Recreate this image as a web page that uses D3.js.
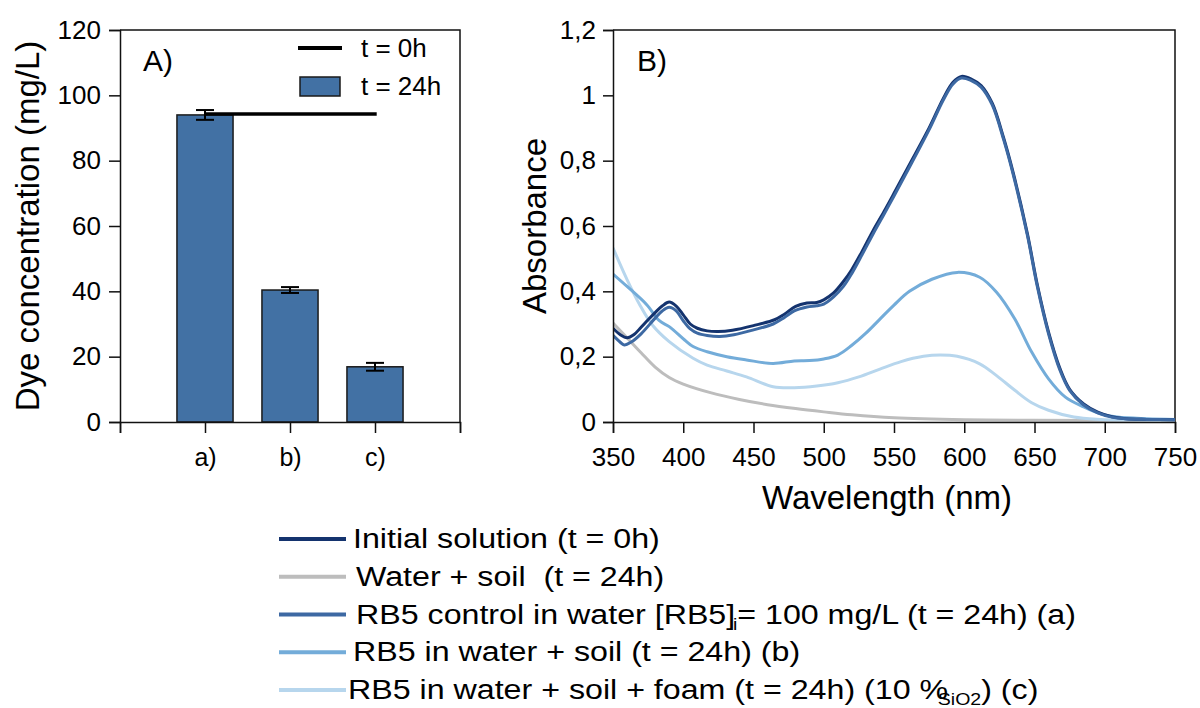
<!DOCTYPE html>
<html>
<head>
<meta charset="utf-8">
<script src="https://d3js.org/d3.v7.min.js"></script>
<style>
  body { margin: 0; background: #fff; }
  svg { font-family: 'Liberation Sans', Arial, sans-serif; }
  .lg { white-space: pre; }
</style>
</head>
<body>
<svg width="1200" height="708"></svg>
<script>
// ---- panel A data ----
const cats = ["a)", "b)", "c)"];
const conc = [94.0, 40.4, 16.9];
const concErr = [1.5, 0.9, 1.2];
const t0Value = 94.3;
const yTicksA = [0, 20, 40, 60, 80, 100, 120];

// ---- panel B data (wavelength nm, absorbance) ----
const wlInit = [350,355,360,365,370,375,380,385,390,395,400,405,410,417,425,435,450,465,472,480,488,495,500,507,514,520,527,535,543,550,560,575,585,592,598,605,612,620,628,635,645,652,660,668,675,685,695,705,715,730,750];
const absInit = [.287,.268,.258,.268,.29,.313,.335,.355,.367,.355,.328,.300,.287,.279,.277,.281,.295,.313,.33,.354,.364,.366,.374,.395,.43,.467,.52,.585,.645,.70,.78,.90,.99,1.04,1.058,1.05,1.03,.975,.87,.76,.575,.42,.275,.165,.10,.055,.03,.016,.01,.008,.007];

const wlCtrl = [350,355,358,363,370,380,385,390,395,400,405,410,417,426,436,450,464,472,479,488,495,500,507,514,520,527,535,543,550,560,575,585,592,598,605,612,620,628,635,645,652,660,668,675,685,695,705,715,730,750];
const absCtrl = [.265,.245,.236,.245,.27,.318,.34,.351,.34,.31,.285,.272,.265,.262,.267,.282,.30,.32,.34,.352,.356,.361,.383,.415,.455,.51,.575,.637,.692,.772,.895,.985,1.035,1.053,1.045,1.025,.97,.865,.755,.57,.415,.27,.16,.097,.052,.028,.015,.01,.008,.007];

const wlSoil = [350,360,374,383,390,401,407,417,431,445,464,479,490,500,510,520,530,540,550,561,577,595,611,623,636,648,660,672,685,697,709,730,750];
const absSoil = [.453,.415,.359,.31,.292,.251,.231,.215,.20,.19,.179,.187,.188,.193,.205,.235,.272,.315,.358,.40,.437,.458,.443,.397,.315,.214,.132,.076,.046,.025,.015,.01,.008];

const wlFoam = [350,360,369,378,390,407,417,431,445,464,479,495,510,525,540,555,571,583,595,611,623,636,648,660,678,697,720,750];
const absFoam = [.533,.436,.359,.297,.246,.195,.174,.156,.138,.108,.105,.11,.12,.138,.162,.185,.201,.205,.201,.178,.142,.097,.059,.036,.015,.008,.006,.005];

const wlWater = [350,360,370,380,390,400,420,440,460,480,500,520,550,600,650,750];
const absWater = [.303,.258,.212,.168,.136,.116,.089,.069,.053,.041,.031,.022,.013,.007,.005,.005];

const yTicksB = [0, 0.2, 0.4, 0.6, 0.8, 1.0, 1.2];
const xTicksB = [350, 400, 450, 500, 550, 600, 650, 700, 750];

const seriesNames = ["Initial", "Water", "Control", "Soil", "Foam"];
const seriesColors = ["#14336e", "#bdbdbd", "#3d69a3", "#73acd9", "#b7d6ed"];

const svg = d3.select("svg");
const ink = "#111";

// ================= Panel A =================
const xA = d3.scaleLinear().domain([0, 4]).range([120, 460]);
const yA = d3.scaleLinear().domain([0, 120]).range([422, 30]);
const gA = svg.append("g");

// frame top/right
gA.append("path").attr("d", `M${xA(0)},${yA(120)}H${xA(4)}V${yA(0)}`)
  .attr("fill", "none").attr("stroke", ink).attr("stroke-width", 1.5);

// bars
const barW = xA(0.66) - xA(0);
gA.selectAll("rect.bar").data(conc).join("rect")
  .attr("x", (d, i) => xA(i + 1) - barW / 2)
  .attr("y", d => yA(d))
  .attr("width", barW)
  .attr("height", d => yA(0) - yA(d))
  .attr("fill", "#4271a4").attr("stroke", "#1a1a1a").attr("stroke-width", 1.5);

// t = 0h line
gA.append("line")
  .attr("x1", xA(1)).attr("x2", xA(3.02))
  .attr("y1", yA(t0Value)).attr("y2", yA(t0Value))
  .attr("stroke", "#000").attr("stroke-width", 3.5);

// error bars
const capW = 9;
conc.forEach((d, i) => {
  const cx = xA(i + 1);
  const e = gA.append("g").attr("stroke", "#000").attr("stroke-width", 2);
  e.append("line").attr("x1", cx).attr("x2", cx).attr("y1", yA(d - concErr[i])).attr("y2", yA(d + concErr[i]));
  [d - concErr[i], d + concErr[i]].forEach(v =>
    e.append("line").attr("x1", cx - capW).attr("x2", cx + capW).attr("y1", yA(v)).attr("y2", yA(v)));
});

// y axis A
const axA = gA.append("g").attr("transform", `translate(${xA(0)},0)`)
  .call(d3.axisLeft(yA).tickValues(yTicksA).tickSize(11).tickPadding(8));
// x axis A
const axXA = gA.append("g").attr("transform", `translate(0,${yA(0)})`)
  .call(d3.axisBottom(xA).tickValues([0, 1, 2, 3, 4]).tickSize(11).tickPadding(10)
    .tickFormat(d => (d >= 1 && d <= 3) ? cats[d - 1] : ""));
[axA, axXA].forEach(a => {
  a.select(".domain").attr("stroke", ink).attr("stroke-width", 1.5);
  a.selectAll(".tick line").attr("stroke", ink).attr("stroke-width", 1.5);
  a.selectAll("text").attr("fill", "#000").style("font-family", "'Liberation Sans', Arial, sans-serif");
});
axA.selectAll("text").style("font-size", "26px");
axXA.selectAll("text").style("font-size", "25px").attr("dy", "0.9em");

gA.append("text").attr("x", 143).attr("y", 71).style("font-size", "30px").text("A)");
gA.append("text").attr("transform", `translate(39,${(yA(0) + yA(120)) / 2}) rotate(-90)`)
  .attr("text-anchor", "middle").style("font-size", "33px").text("Dye concentration (mg/L)");

// legend A
gA.append("line").attr("x1", 298).attr("x2", 342).attr("y1", 48).attr("y2", 48)
  .attr("stroke", "#000").attr("stroke-width", 4);
gA.append("text").attr("x", 361).attr("y", 57).style("font-size", "26px").text("t = 0h");
gA.append("rect").attr("x", 300).attr("y", 77).attr("width", 40).attr("height", 19)
  .attr("fill", "#4271a4").attr("stroke", "#1a1a1a").attr("stroke-width", 1.5);
gA.append("text").attr("x", 361).attr("y", 95).style("font-size", "26px").text("t = 24h");

// ================= Panel B =================
const xB = d3.scaleLinear().domain([350, 750]).range([613, 1175]);
const yB = d3.scaleLinear().domain([0, 1.2]).range([422, 30]);
const gB = svg.append("g");

svg.append("defs").append("clipPath").attr("id", "clipB")
  .append("rect").attr("x", xB(350)).attr("y", yB(1.2)).attr("width", xB(750) - xB(350)).attr("height", yB(0) - yB(1.2));

gB.append("path").attr("d", `M${xB(350)},${yB(1.2)}H${xB(750)}V${yB(0)}`)
  .attr("fill", "none").attr("stroke", ink).attr("stroke-width", 1.5);

const line = d3.line().x(d => xB(d[0])).y(d => yB(d[1])).curve(d3.curveCatmullRom.alpha(0.5));
const curves = [
  { wl: wlWater, ab: absWater, c: seriesColors[1] },
  { wl: wlFoam, ab: absFoam, c: seriesColors[4] },
  { wl: wlSoil, ab: absSoil, c: seriesColors[3] },
  { wl: wlInit, ab: absInit, c: seriesColors[0] },
  { wl: wlCtrl, ab: absCtrl, c: seriesColors[2] }
];
gB.append("g").attr("clip-path", "url(#clipB)")
  .selectAll("path").data(curves).join("path")
  .attr("d", s => line(s.wl.map((w, i) => [w, s.ab[i]])))
  .attr("fill", "none").attr("stroke", s => s.c).attr("stroke-width", 3);

const fmtB = d => d === 0 ? "0" : d === 1 ? "1" : d3.format(".1f")(d).replace(".", ",");
const axYB = gB.append("g").attr("transform", `translate(${xB(350)},0)`)
  .call(d3.axisLeft(yB).tickValues(yTicksB).tickSize(10).tickPadding(7).tickFormat(fmtB));
const axXB = gB.append("g").attr("transform", `translate(0,${yB(0)})`)
  .call(d3.axisBottom(xB).tickValues(xTicksB).tickSize(11).tickPadding(10));
[axYB, axXB].forEach(a => {
  a.select(".domain").attr("stroke", ink).attr("stroke-width", 1.5);
  a.selectAll(".tick line").attr("stroke", ink).attr("stroke-width", 1.5);
  a.selectAll("text").attr("fill", "#000").style("font-size", "26px")
    .style("font-family", "'Liberation Sans', Arial, sans-serif");
});
axXB.selectAll("text").attr("dy", "0.9em");

gB.append("text").attr("x", 637).attr("y", 71).style("font-size", "30px").text("B)");
gB.append("text").attr("transform", `translate(546,${(yB(0) + yB(1.2)) / 2}) rotate(-90)`)
  .attr("text-anchor", "middle").style("font-size", "33px").text("Absorbance");
gB.append("text").attr("x", (xB(350) + xB(750)) / 2 - 7).attr("y", 509)
  .attr("text-anchor", "middle").style("font-size", "33px").text("Wavelength (nm)");

// ================= Bottom legend =================
const legendLabels = [
  ["Initial solution (t = 0h)"],
  ["Water + soil  (t = 24h)"],
  ["RB5 control in water [RB5]", { sub: "i" }, "= 100 mg/L (t = 24h) (a)"],
  ["RB5 in water + soil (t = 24h) (b)"],
  ["RB5 in water + soil + foam (t = 24h) (10 %", { sub: "SiO2", dx: -9 }, ") (c)"]
];
const legendOrder = [0, 1, 2, 3, 4];
const legendTextX = [353, 356, 356, 353, 348];
const legY = d3.scalePoint().domain(legendOrder).range([539, 690]);
const gL = svg.append("g");
legendOrder.forEach(i => {
  const y = legY(i);
  gL.append("line").attr("x1", 279).attr("x2", 346).attr("y1", y).attr("y2", y)
    .attr("stroke", seriesColors[i]).attr("stroke-width", 4);
  const t = gL.append("text").attr("class", "lg")
    .attr("transform", `translate(${legendTextX[i]},${y + 9}) scale(1.15,1)`)
    .style("font-size", "28px");
  let shift = 0;
  legendLabels[i].forEach(p => {
    if (typeof p === "string") {
      t.append("tspan").attr("dy", -shift).text(p);
      shift = 0;
    } else {
      t.append("tspan").attr("dx", p.dx || -2).attr("dy", 6).style("font-size", "17px").text(p.sub);
      shift = 6;
    }
  });
});
</script>
</body>
</html>
